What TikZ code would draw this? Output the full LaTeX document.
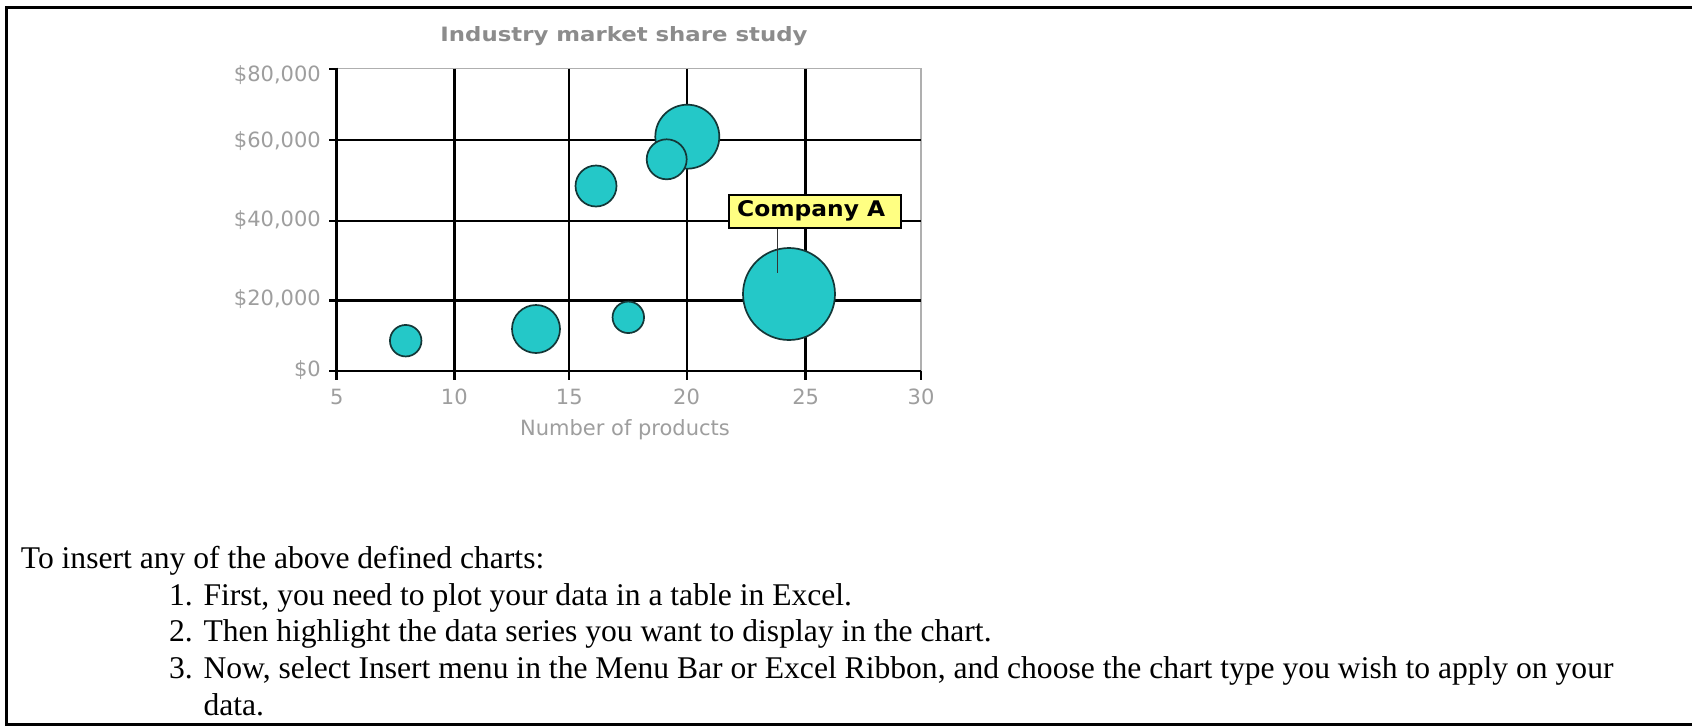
\documentclass[tikz,border=0pt]{standalone}
\usepackage{fontspec}
\usepackage{graphicx}
\setmainfont{Liberation Serif}
\newfontfamily\chartsans{DejaVu Sans}
\definecolor{lblgray}{RGB}{158,158,158}
\definecolor{titlegray}{RGB}{140,140,140}
\definecolor{bordergray}{RGB}{175,175,175}
\definecolor{bubblefill}{RGB}{36,200,200}
\definecolor{bubbleline}{RGB}{20,55,55}
\definecolor{notefill}{RGB}{255,255,130}
\tikzset{
  bodytxt/.style={inner sep=0pt, anchor=base west, font=\fontsize{31.6}{37}\selectfont},
  numtxt/.style={inner sep=0pt, anchor=base east, font=\fontsize{31.6}{37}\selectfont},
  ylbl/.style={inner sep=0pt, anchor=base east, text=lblgray, font=\chartsans\fontsize{21}{21}\selectfont},
  xlbl/.style={inner sep=0pt, anchor=base, text=lblgray, font=\chartsans\fontsize{21}{21}\selectfont},
  bubble/.style={circle, draw=bubbleline, fill=bubblefill, line width=1.7pt, inner sep=0pt},
  gridln/.style={draw=black},
  notebox/.style={draw=black, fill=notefill, line width=1.5pt, inner sep=0pt, minimum width=172pt, minimum height=33pt, anchor=north west},
  leader/.style={draw=black!80, line width=1.4pt}
}
\begin{document}
\begin{tikzpicture}[x=1pt,y=-1pt]
\useasboundingbox (0,0) rectangle (1692,726);
\fill[white] (0,0) rectangle (1692,726);
% outer frame (right side cut off)
\draw[line width=3pt, line join=miter] (1692,7.5) -- (6.5,7.5) -- (6.5,724.5) -- (1692,724.5);

% title
\node[inner sep=0pt, anchor=base, text=titlegray] (title) at (624,41)
  {\resizebox{367pt}{15pt}{\chartsans\bfseries Industry market share study}};

% plot border
\draw[draw=bordergray, line width=1.3pt] (336.7,68.5) -- (921,68.5) -- (921,371);
% horizontal grid lines
\draw[gridln, line width=2.0pt] (329,68.5) -- (336.7,68.5);
\draw[gridln, line width=2.8pt] (329,140) -- (921,140);
\draw[gridln, line width=1.8pt] (329,221) -- (921,221);
\draw[gridln, line width=2.6pt] (329,300.5) -- (921,300.5);
\draw[gridln, line width=2.8pt] (329,371) -- (921,371);
% vertical grid lines
\draw[gridln, line width=2.8pt] (336.7,67.5) -- (336.7,380);
\draw[gridln, line width=2.8pt] (454.3,68.5) -- (454.3,380);
\draw[gridln, line width=1.8pt] (569.3,68.5) -- (569.3,380);
\draw[gridln, line width=2.0pt] (686.5,68.5) -- (686.5,380);
\draw[gridln, line width=2.6pt] (805.7,68.5) -- (805.7,380);
\draw[gridln, line width=2.0pt] (921,371) -- (921,380);

% y labels
\node[ylbl] (y80) at (321,81) {\$80,000};
\node[ylbl] (y60) at (321,147.5) {\$60,000};
\node[ylbl] (y40) at (321,226.5) {\$40,000};
\node[ylbl] (y20) at (321,305.5) {\$20,000};
\node[ylbl] (y0) at (321,376) {\$0};
% x labels
\node[xlbl] (x5) at (336.7,404) {5};
\node[xlbl] (x10) at (454.3,404) {10};
\node[xlbl] (x15) at (569.3,404) {15};
\node[xlbl] (x20) at (686.5,404) {20};
\node[xlbl] (x25) at (805.7,404) {25};
\node[xlbl] (x30) at (921,404) {30};
\node[xlbl] (xtitle) at (625,435) {Number of products};

% bubbles
\node[bubble, minimum size=92pt] (b7) at (789,294) {};
\node[bubble, minimum size=64pt] (b6) at (687.3,136.7) {};
\node[bubble, minimum size=48pt] (b2) at (536,329) {};
\node[bubble, minimum size=41pt] (b4) at (596,186) {};
\node[bubble, minimum size=40pt] (b5) at (666.7,159.3) {};
\node[bubble, minimum size=31.5pt] (b1) at (405.7,340.7) {};
\node[bubble, minimum size=31.5pt] (b3) at (628.3,317.3) {};

% data label
\node[notebox] (compA) at (728.3,194) {};
\node[inner sep=0pt, anchor=base west] (compAtxt) at (737,216)
  {\resizebox{148pt}{16pt}{\chartsans\bfseries Company A}};
\coordinate (leadEnd) at (777.7,273);
\draw[leader] (compA.south -| leadEnd) -- (leadEnd);

% body text
\node[bodytxt] (intro) at (20.7,568.5) {To insert any of the above defined charts:};
\node[numtxt] (n1) at (193,605) {1.};
\node[bodytxt] (t1) at (203.3,605) {First, you need to plot your data in a table in Excel.};
\node[numtxt] (n2) at (193,641.5) {2.};
\node[bodytxt] (t2) at (203.3,641.5) {Then highlight the data series you want to display in the chart.};
\node[numtxt] (n3) at (193,678) {3.};
\node[bodytxt] (t3) at (203.3,678) {Now, select Insert menu in the Menu Bar or Excel Ribbon, and choose the chart type you wish to apply on your};
\node[bodytxt] (t3b) at (203.3,715) {data.};
\end{tikzpicture}
\end{document}
